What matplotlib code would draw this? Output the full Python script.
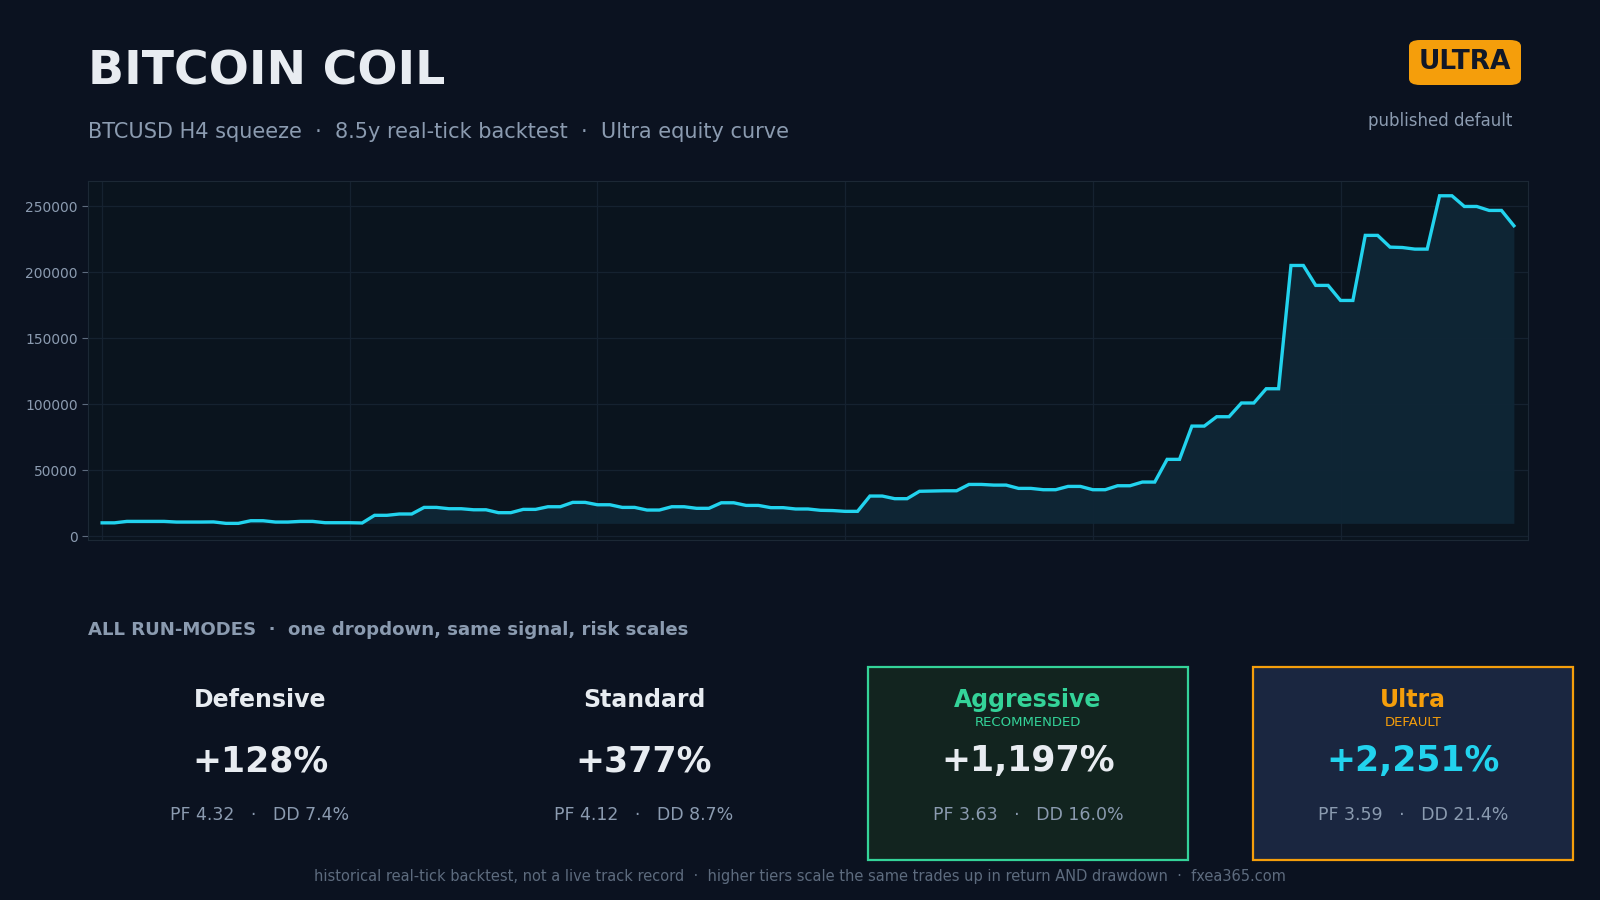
import numpy as np
import matplotlib.pyplot as plt
from matplotlib.patches import FancyBboxPatch, Rectangle

# Ultra equity curve, one value per step (starting balance 10k)
equity = [
    10000, 10000, 11100, 11100, 11100, 11100, 10600, 10600, 10600, 10700,
    9600, 9600, 11600, 11600, 10600, 10600, 11100, 11100, 10100, 10100,
    10100, 9900, 15700, 15700, 16700, 16700, 21700, 21700, 20700, 20700,
    19900, 19900, 17700, 17700, 20200, 20200, 22200, 22200, 25500, 25500,
    23700, 23700, 21700, 21700, 19700, 19700, 22200, 22200, 21000, 21000,
    25200, 25200, 23200, 23200, 21500, 21500, 20500, 20500, 19500, 19300,
    18700, 18700, 30300, 30300, 28300, 28300, 33900, 34100, 34300, 34300,
    39100, 39100, 38600, 38600, 36100, 36100, 35100, 35100, 37600, 37600,
    35100, 35100, 38100, 38100, 40900, 40900, 58100, 58100, 83300, 83300,
    90400, 90400, 100800, 100800, 111600, 111600, 205000, 205000, 189900, 189900,
    178500, 178500, 227800, 227800, 218900, 218600, 217400, 217400, 257800, 257800,
    249700, 249700, 246700, 246700, 235100,
]

modes = ["Defensive", "Standard", "Aggressive", "Ultra"]
mode_tags = ["", "", "RECOMMENDED", "DEFAULT"]
returns = ["+128%", "+377%", "+1,197%", "+2,251%"]
profit_factors = ["4.32", "4.12", "3.63", "3.59"]
drawdowns = ["7.4%", "8.7%", "16.0%", "21.4%"]

BG = "#0b1220"
AX_BG = "#0a141e"
CYAN = "#22d3ee"
GREEN = "#34d399"
ORANGE = "#f59e0b"
WHITE = "#e8ecf1"
MUTED = "#8b9bb0"
DIM = "#5d6b7e"

W, H = 1600, 900


def fx(x):
    return x / W


def fy(y):
    return 1 - y / H


fig = plt.figure(figsize=(16, 9), dpi=100, facecolor=BG)

# header
fig.text(fx(88), fy(72), "BITCOIN COIL", color=WHITE, fontsize=34,
         fontweight="bold", va="center", ha="left")
fig.text(fx(88), fy(132),
         "BTCUSD H4 squeeze  \u00b7  8.5y real-tick backtest  \u00b7  Ultra equity curve",
         color=MUTED, fontsize=15, va="center", ha="left")

badge = FancyBboxPatch((fx(1409), fy(85)), fx(112), 45 / H,
                       boxstyle="round,pad=0,rounding_size=0.007",
                       transform=fig.transFigure, facecolor=ORANGE,
                       edgecolor="none")
fig.add_artist(badge)
fig.text(fx(1465), fy(62), "ULTRA", color="#111827", fontsize=19,
         fontweight="bold", ha="center", va="center")
fig.text(fx(1512), fy(121), "published default", color=MUTED, fontsize=12,
         ha="right", va="center")

# equity chart
ax = fig.add_axes([fx(88), fy(540), fx(1528 - 88), (540 - 181) / H])
ax.set_facecolor(AX_BG)
x = np.arange(len(equity))
y = np.array(equity)
ax.fill_between(x, y, y.min(), color="#0f2636", alpha=0.95, lw=0)
ax.plot(x, y, color=CYAN, lw=2.4, solid_joinstyle="miter")
ax.margins(x=0.01)
ax.set_ylim(-3000, 269000)
ax.set_xticks(np.arange(0, 101, 20))
ax.set_yticks(np.arange(0, 250001, 50000))
ax.grid(True, color="#152230", lw=0.9)
ax.set_axisbelow(True)
for s in ax.spines.values():
    s.set_color("#1c2835")
ax.tick_params(axis="x", length=0, labelbottom=False)
ax.tick_params(axis="y", colors=DIM, labelcolor=MUTED, labelsize=10, length=4)

# run-mode cards
fig.text(fx(88), fy(630),
         "ALL RUN-MODES  \u00b7  one dropdown, same signal, risk scales",
         color=MUTED, fontsize=13.1, fontweight="bold", ha="left", va="center")

card_left = [100, 484, 868, 1253]
card_w = 320
card_face = [None, None, "#12241f", "#1a2640"]
card_edge = [None, None, GREEN, ORANGE]
name_color = [WHITE, WHITE, GREEN, ORANGE]
pct_color = [WHITE, WHITE, WHITE, CYAN]

for i, name in enumerate(modes):
    cx = card_left[i] + card_w / 2
    if card_face[i]:
        fig.add_artist(Rectangle((fx(card_left[i]), fy(860)), fx(card_w),
                                 (860 - 667) / H, transform=fig.transFigure,
                                 facecolor=card_face[i], edgecolor=card_edge[i],
                                 lw=1.6))
    fig.text(fx(cx), fy(700), name, color=name_color[i], fontsize=17,
             fontweight="bold", ha="center", va="center")
    if mode_tags[i]:
        fig.text(fx(cx), fy(722), mode_tags[i], color=name_color[i],
                 fontsize=9.5, ha="center", va="center")
    fig.text(fx(cx), fy(761), returns[i], color=pct_color[i], fontsize=25,
             fontweight="bold", ha="center", va="center")
    fig.text(fx(cx), fy(815),
             f"PF {profit_factors[i]}   \u00b7   DD {drawdowns[i]}",
             color=MUTED, fontsize=12.5, ha="center", va="center")

fig.text(fx(800), fy(877),
         "historical real-tick backtest, not a live track record  \u00b7  "
         "higher tiers scale the same trades up in return AND drawdown  \u00b7  fxea365.com",
         color=DIM, fontsize=10.5, ha="center", va="center")

fig.savefig("out.png", dpi=100, facecolor=BG)
